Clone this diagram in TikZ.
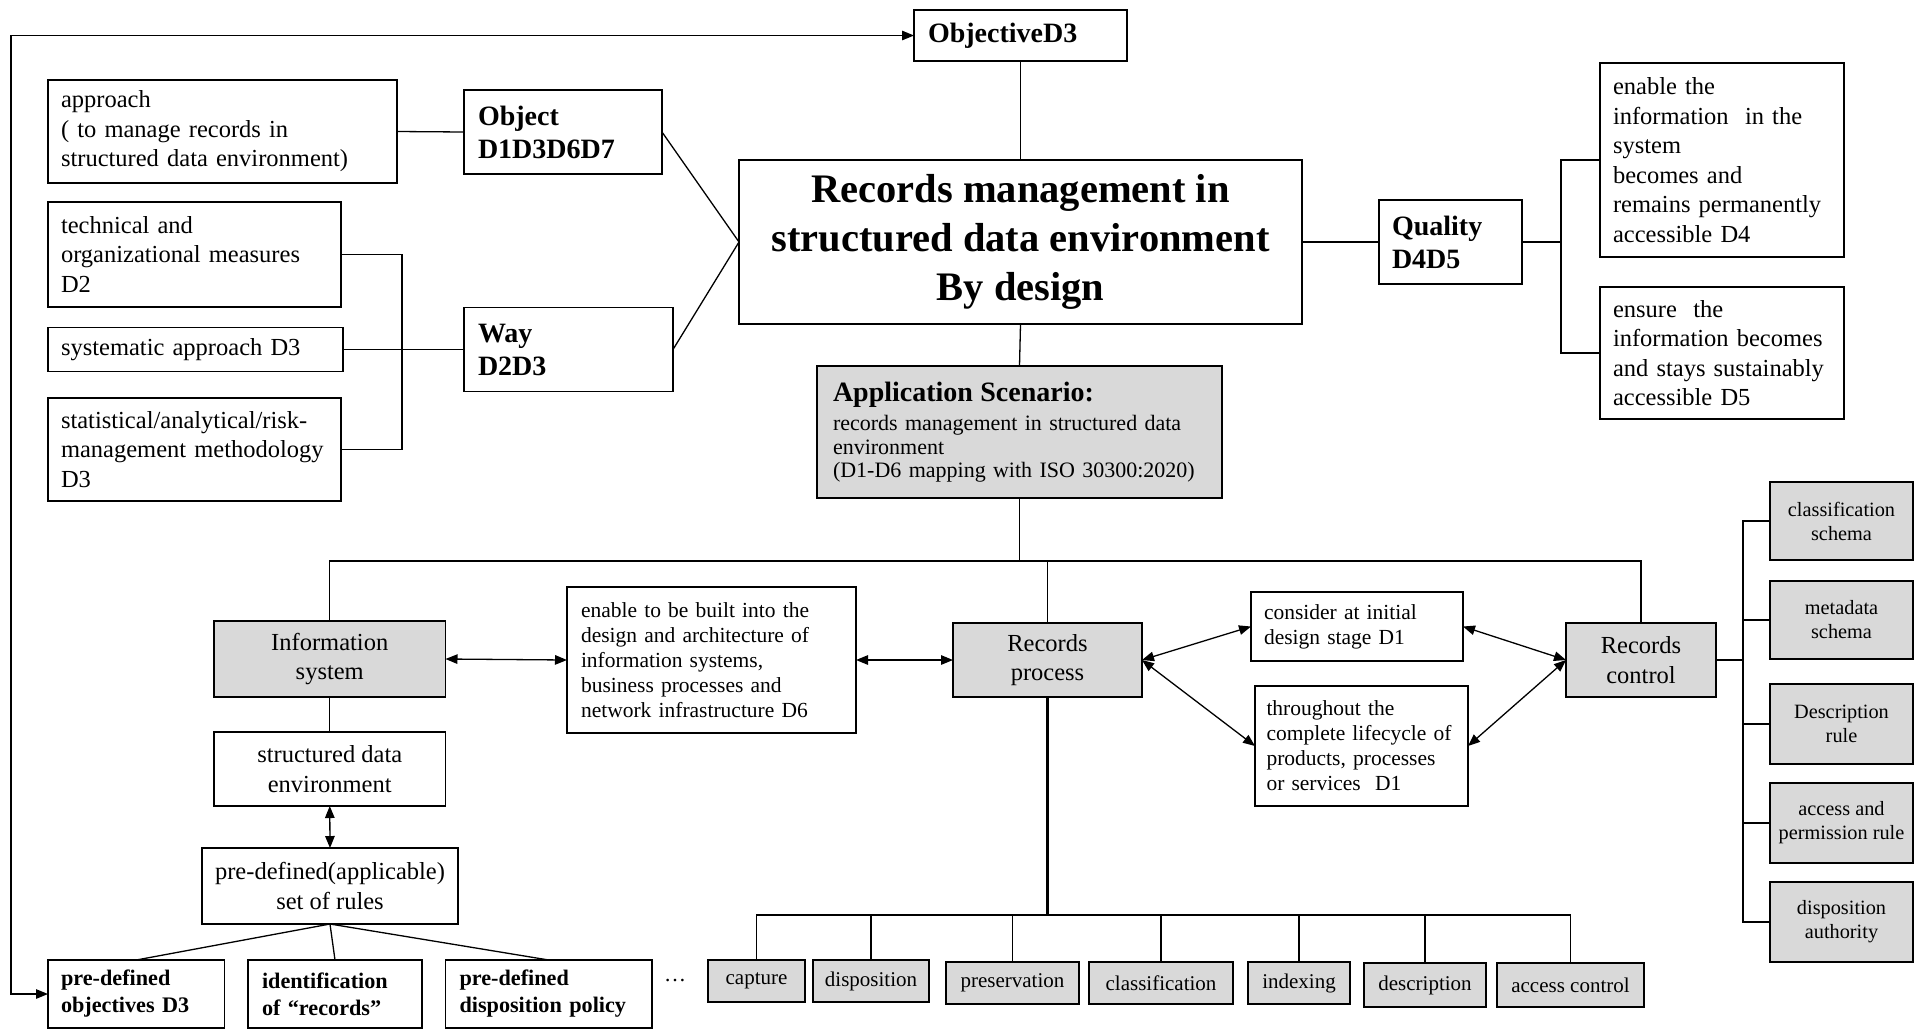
\documentclass[tikz,border=0pt]{standalone}
\usepackage{fontspec}
\setmainfont{Liberation Serif}
\usetikzlibrary{arrows.meta}
\definecolor{boxgray}{RGB}{217,217,217}
\begin{document}
\begin{tikzpicture}[x=1pt,y=-1pt,
  box/.style={draw, line width=1.7pt, inner sep=0pt, outer sep=0pt, rectangle},
  gbox/.style={box, fill=boxgray},
  conn/.style={line width=1.3pt},
  heavy/.style={line width=2.6pt},
  tips/.style={{Triangle[length=12pt,width=9.5pt]}-{Triangle[length=12pt,width=9.5pt]}},
  ftitle/.style={font=\fontsize{40.5}{49}\selectfont\bfseries},
  fhead/.style={font=\fontsize{28}{33}\selectfont\bfseries},
  fbody/.style={font=\fontsize{24.5}{29.5}\selectfont},
  fsmall/.style={font=\fontsize{21.5}{25}\selectfont},
  fbold/.style={font=\fontsize{22.2}{27}\selectfont\bfseries},
  fstep/.style={font=\fontsize{21}{24}\selectfont},
  fitem/.style={font=\fontsize{20.3}{24}\selectfont},
]
\useasboundingbox (0,0) rectangle (1921,1029);

% --- core and top level ---
\node[box, ftitle, minimum width=563pt, minimum height=164pt, align=center] (main) at (1020.5,242)
  {Records management in\\structured data environment\\By design};
\node[box, fhead, minimum width=213pt, minimum height=51pt, text width=185pt, align=left] (objective) at (1020.5,35.5) {ObjectiveD3};
\node[box, fhead, minimum width=198pt, minimum height=84pt, text width=170pt, align=left] (object) at (563,132) {Object\\D1D3D6D7};
\node[box, fhead, minimum width=209pt, minimum height=84pt, text width=181pt, align=left] (way) at (568.5,349.5) {Way\\D2D3};
\node[box, fhead, minimum width=143pt, minimum height=84pt, text width=117pt, align=left] (quality) at (1450.5,242) {Quality\\D4D5};

% --- left descriptions ---
\node[box, fbody, minimum width=349pt, minimum height=103pt, text width=323pt, align=left] (approach) at (222.5,131.5)
  {approach\\( to manage records in\\structured data environment)};
\node[box, fbody, minimum width=293pt, minimum height=105pt, text width=267pt, align=left] (technical) at (194.5,254.5)
  {technical and\\organizational measures\\D2};
\node[box, fbody, minimum width=295pt, minimum height=44pt, text width=269pt, align=left] (systematic) at (195.5,349.5)
  {systematic approach D3};
\node[box, fbody, minimum width=293pt, minimum height=103pt, text width=267pt, align=left] (statistical) at (194.5,449.5)
  {statistical/analytical/risk-\\management methodology\\D3};

% --- quality descriptions ---
\node[box, fbody, minimum width=244pt, minimum height=194pt, text width=218pt, align=left] (q1) at (1722,160)
  {enable the\\information\ \ in the\\system\\becomes and\\remains permanently\\accessible D4};
\node[box, fbody, minimum width=244pt, minimum height=132pt, text width=218pt, align=left] (q2) at (1722,353)
  {ensure\ \ the\\information becomes\\and stays sustainably\\accessible D5};

% --- application scenario ---
\node[gbox, font=\fontsize{22}{23.5}\selectfont, minimum width=405pt, minimum height=132pt, text width=373pt, align=left] (app) at (1019.5,432)
  {{\fontsize{28}{28}\selectfont\bfseries Application Scenario:}\\[6pt]records management in structured data\\environment\\(D1-D6 mapping with ISO 30300:2020)};

% --- middle row ---
\node[gbox, fbody, minimum width=231.5pt, minimum height=76pt, align=center] (info) at (329.75,659) {Information\\system};
\node[box, fsmall, minimum width=289pt, minimum height=146pt, text width=261pt, align=left] (enable) at (711.5,660)
  {enable to be built into the\\design and architecture of\\information systems,\\business processes and\\network infrastructure D6};
\node[gbox, fbody, minimum width=189pt, minimum height=74pt, align=center] (rp) at (1047.5,660) {Records\\process};
\node[box, fsmall, minimum width=212pt, minimum height=69pt, text width=186pt, align=left] (consider) at (1357,626.5)
  {consider at initial\\design stage D1};
\node[box, fsmall, minimum width=213pt, minimum height=120pt, text width=190pt, align=left] (throughout) at (1361.5,746)
  {throughout the\\complete lifecycle of\\products, processes\\or services\ \ D1};
\node[gbox, fbody, minimum width=150pt, minimum height=74pt, align=center] (rc) at (1641,660) {Records\\control};

% --- information system chain ---
\node[box, fbody, minimum width=231.5pt, minimum height=74pt, align=center] (sde) at (329.75,769) {structured data\\environment};
\node[box, fbody, minimum width=256pt, minimum height=76pt, align=center] (rules) at (330,886) {pre-defined(applicable)\\set of rules};
\node[box, fbold, minimum width=176.5pt, minimum height=68pt, text width=150.5pt, align=left] (pobj) at (136.25,994) {pre-defined\\objectives D3};
\node[box, fbold, minimum width=174pt, minimum height=68pt, text width=146pt, align=left] (ident) at (335,994) {identification\\of ``records''};
\node[box, fbold, minimum width=206.5pt, minimum height=68pt, text width=178.5pt, align=left] (pdisp) at (548.75,994) {pre-defined\\disposition policy};
\node[font=\fontsize{22}{22}\selectfont] (more) at (675,980) {\dots};

% --- records process steps ---
\node[gbox, fstep, minimum width=97pt,  minimum height=42pt] (capture) at (756.5,981) {capture};
\node[gbox, fstep, minimum width=116pt, minimum height=42pt] (dispo)   at (871,981) {disposition};
\node[gbox, fstep, minimum width=133pt, minimum height=42pt] (preserv) at (1012.5,983) {preservation};
\node[gbox, fstep, minimum width=144pt, minimum height=42pt] (classif) at (1161,983) {classification};
\node[gbox, fstep, minimum width=102pt, minimum height=42pt] (indexing) at (1299,983) {indexing};
\node[gbox, fstep, minimum width=122pt, minimum height=44pt] (descr)   at (1425,985) {description};
\node[gbox, fstep, minimum width=147pt, minimum height=44pt] (access)  at (1570.5,985) {access control};

% --- records control instruments ---
\node[gbox, fitem, minimum width=143pt, minimum height=77.5pt, align=center] (cs)  at (1841.5,521) {classification\\schema};
\node[gbox, fitem, minimum width=143pt, minimum height=77.5pt, align=center] (ms)  at (1841.5,620) {metadata\\schema};
\node[gbox, fitem, minimum width=143pt, minimum height=80pt, align=center] (dr)  at (1841.5,724) {Description\\rule};
\node[gbox, fitem, minimum width=143pt, minimum height=80pt, align=center] (apr) at (1841.5,823) {access and\\permission rule};
\node[gbox, fitem, minimum width=143pt, minimum height=80pt, align=center] (da)  at (1841.5,922) {disposition\\authority};

% --- bus coordinates ---
\coordinate (loopx) at (11,0);
\coordinate (busL) at (402,0);
\coordinate (busQ) at (1561,0);
\coordinate (busA) at (0,561);
\coordinate (busB) at (0,915);
\coordinate (busC) at (1743,0);

% --- connectors: top half ---
\draw[conn, tips] (objective.west) -- (objective.west -| loopx) -- (pobj.west -| loopx) -- (pobj.west);
\draw[conn] (objective.south) -- (main.north);
\draw[conn] (approach.east) -- (object.west);
\draw[conn] (object.east) -- (main.west);
\draw[conn] (way.east) -- (main.west);
\draw[conn] (technical.east) -- (technical.east -| busL) -- (statistical.east -| busL) -- (statistical.east);
\draw[conn] (systematic.east) -- (way.west);
\draw[conn] (main.east) -- (quality.west);
\draw[conn] (quality.east) -- (quality.east -| busQ);
\draw[conn] (q1.west) -- (q1.west -| busQ) -- (q2.west -| busQ) -- (q2.west);
\draw[conn] (main.south) -- (app.north);

% --- connectors: scenario bus ---
\draw[conn] (app.south) -- (app.south |- busA);
\draw[conn] (info.north) -- (info.north |- busA) -- (rc.north |- busA) -- (rc.north);
\draw[conn] (rp.north) -- (rp.north |- busA);

% --- connectors: middle row ---
\draw[conn, tips] (info.east) -- (enable.west);
\draw[conn, tips] (enable.east) -- (rp.west);
\draw[conn, tips] (rp.east) -- (consider.west);
\draw[conn, tips] (rp.east) -- (throughout.west);
\draw[conn, tips] (consider.east) -- (rc.west);
\draw[conn, tips] (throughout.east) -- (rc.west);

% --- connectors: information system chain ---
\draw[conn] (info.south) -- (sde.north);
\draw[conn, tips] (sde.south) -- (rules.north);
\draw[conn] (rules.south) -- (pobj.north);
\draw[conn] (rules.south) -- (ident.north);
\draw[conn] (rules.south) -- (pdisp.north);

% --- connectors: records process steps ---
\draw[heavy] (rp.south) -- (rp.south |- busB);
\draw[conn] (capture.north) -- (capture.north |- busB) -- (access.north |- busB) -- (access.north);
\foreach \n in {dispo, preserv, classif, indexing, descr}
  \draw[conn] (\n.north) -- (\n.north |- busB);

% --- connectors: records control instruments ---
\draw[heavy] (rc.east) -- (rc.east -| busC);
\draw[conn] (cs.west) -- (cs.west -| busC) -- (da.west -| busC) -- (da.west);
\foreach \n in {ms, dr, apr}
  \draw[conn] (\n.west) -- (\n.west -| busC);
\end{tikzpicture}
\end{document}
